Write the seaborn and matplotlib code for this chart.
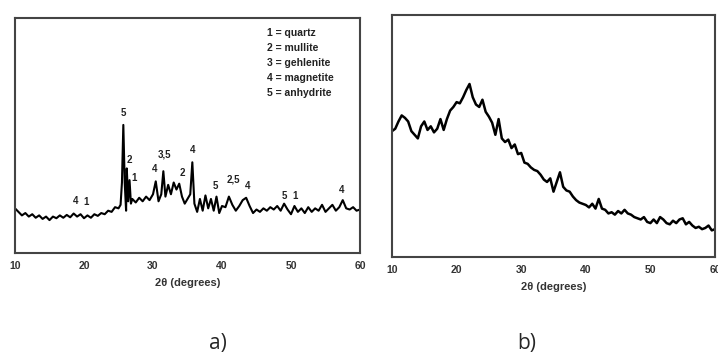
import matplotlib
matplotlib.use("Agg")
import matplotlib.pyplot as plt
import seaborn as sns
import pandas as pd

# ---- data: panel a) (fly ash XRD pattern) ----
two_theta_a = [10, 10.5, 11, 11.5, 12, 12.5, 13, 13.5, 14, 14.5, 15, 15.5, 16, 16.5, 17, 17.5,
               18, 18.5, 19, 19.5, 20, 20.5, 21, 21.5, 22, 22.5, 23, 23.5, 24, 24.5, 25, 25.3,
               25.5, 25.7, 25.9, 26.1, 26.2, 26.4, 26.6, 26.8, 27, 27.5, 28, 28.5, 29, 29.5, 30,
               30.4, 30.8, 31.2, 31.5, 31.8, 32.2, 32.6, 33, 33.4, 33.8, 34.2, 34.6, 35, 35.4,
               35.7, 36, 36.4, 36.8, 37.2, 37.6, 38, 38.4, 38.8, 39.2, 39.6, 40, 40.5, 41, 41.5,
               42, 42.5, 43, 43.5, 44, 44.5, 45, 45.5, 46, 46.5, 47, 47.5, 48, 48.5, 49, 49.5,
               50, 50.5, 51, 51.5, 52, 52.5, 53, 53.5, 54, 54.5, 55, 55.5, 56, 56.5, 57, 57.5,
               58, 58.5, 59, 59.5, 60]
intensity_a = [19.0, 17.5, 16.0, 17.0, 15.5, 16.5, 15.0, 16.0, 14.5, 15.5, 14.0, 15.5, 14.8, 16.0,
               15.0, 16.2, 15.2, 16.8, 15.5, 16.5, 14.8, 16.0, 15.0, 16.5, 15.8, 17.0, 16.5, 18.0,
               17.5, 19.5, 19.0, 20.5, 30.0, 54.5, 30.0, 18.0, 36.0, 22.0, 31.0, 21.0, 23.0, 21.5,
               23.5, 22.0, 24.0, 22.5, 25.0, 30.5, 22.0, 25.0, 34.8, 24.0, 29.0, 25.0, 30.0, 27.0,
               29.5, 24.0, 21.0, 23.0, 25.0, 38.6, 21.0, 17.5, 23.0, 18.0, 24.5, 19.0, 23.0, 18.0,
               24.0, 17.0, 20.0, 19.5, 24.0, 20.5, 18.0, 20.0, 22.5, 23.5, 20.0, 17.0, 18.5, 17.5,
               19.0, 18.0, 19.5, 18.5, 20.0, 18.0, 21.0, 18.5, 16.5, 20.0, 17.5, 19.0, 17.0, 19.5,
               17.5, 19.0, 18.0, 20.5, 17.5, 19.0, 20.5, 18.0, 19.5, 22.5, 19.0, 18.5, 19.5, 18.0,
               18.5]

# peak labels for panel a)
peak_labels = ["4", "1", "5", "2", "1", "4", "3,5", "2", "4", "5", "2,5", "4", "5", "1", "4"]
peak_label_x = [18.8, 20.3, 25.7, 26.6, 27.2, 30.3, 31.6, 34.2, 35.8, 39.1, 41.6, 43.7, 49.0, 50.6, 57.3]
peak_label_y = [22.0, 21.5, 59.6, 39.4, 32.0, 35.7, 41.8, 34.0, 44.0, 28.4, 31.2, 28.6, 24.4, 24.4, 26.7]

legend_lines = ["1 = quartz", "2 = mullite", "3 = gehlenite", "4 = magnetite", "5 = anhydrite"]

# ---- data: panel b) (geopolymer XRD pattern) ----
two_theta_b = [10, 10.5, 11, 11.5, 12, 12.5, 13, 13.5, 14, 14.5, 15, 15.5, 16, 16.5, 17, 17.5,
               18, 18.5, 19, 19.5, 20, 20.5, 21, 21.5, 22, 22.5, 23, 23.5, 24, 24.5, 25, 25.5,
               26, 26.5, 27, 27.5, 28, 28.5, 29, 29.5, 30, 30.5, 31, 31.5, 32, 32.5, 33, 33.5,
               34, 34.5, 35, 35.5, 36, 36.5, 37, 37.5, 38, 38.5, 39, 39.5, 40, 40.5, 41, 41.5,
               42, 42.5, 43, 43.5, 44, 44.5, 45, 45.5, 46, 46.5, 47, 47.5, 48, 48.5, 49, 49.5,
               50, 50.5, 51, 51.5, 52, 52.5, 53, 53.5, 54, 54.5, 55, 55.5, 56, 56.5, 57, 57.5,
               58, 58.5, 59, 59.5, 60]
intensity_b = [52.0, 53.0, 56.0, 58.5, 57.5, 56.0, 52.0, 50.5, 49.0, 54.0, 56.0, 52.5, 54.0, 51.5,
               53.0, 57.0, 52.5, 57.0, 60.5, 62.0, 64.0, 63.5, 66.0, 69.0, 71.5, 66.0, 63.0, 62.0,
               65.0, 60.0, 58.0, 55.5, 50.5, 57.0, 49.0, 47.5, 48.5, 45.0, 46.5, 42.5, 43.0, 39.0,
               38.5, 37.0, 36.0, 35.5, 34.0, 32.0, 31.0, 32.5, 27.0, 31.0, 35.0, 29.0, 27.5, 27.0,
               25.0, 23.5, 22.5, 22.0, 21.5, 20.5, 22.0, 20.0, 24.0, 20.0, 19.5, 18.0, 18.5, 17.5,
               19.0, 18.0, 19.5, 18.0, 17.5, 16.5, 16.0, 15.5, 16.5, 14.5, 14.0, 15.5, 14.0, 16.5,
               15.5, 14.0, 13.5, 15.0, 14.0, 15.5, 16.0, 13.5, 14.5, 13.0, 12.0, 12.5, 11.5, 12.0,
               13.0, 11.0, 11.5]

xticks = [10, 20, 30, 40, 50, 60]
xlabel = "2θ (degrees)"
panel_labels = ["a)", "b)"]

sns.set_style("white")
plt.rcParams["font.family"] = ["Liberation Sans", "DejaVu Sans"]

fig = plt.figure(figsize=(7.18, 3.56), dpi=100)
ax_a = fig.add_axes([15 / 718, 1 - 253 / 356, 345 / 718, 235 / 356])
ax_b = fig.add_axes([392 / 718, 1 - 257 / 356, 323 / 718, 242 / 356])

df_a = pd.DataFrame({"x": two_theta_a, "y": intensity_a})
df_b = pd.DataFrame({"x": two_theta_b, "y": intensity_b})
sns.lineplot(data=df_a, x="x", y="y", ax=ax_a, color="black", linewidth=1.5)
sns.lineplot(data=df_b, x="x", y="y", ax=ax_b, color="black", linewidth=1.8)

for ax in (ax_a, ax_b):
    ax.set_xlim(10, 60)
    ax.set_ylim(0, 100)
    ax.set_xticks(xticks)
    ax.set_xticklabels([str(t) for t in xticks], fontsize=7.5, fontweight="bold", color="#333333")
    ax.set_yticks([])
    ax.set_ylabel("")
    ax.tick_params(axis="x", direction="in", length=4, width=1.2, color="#333333", pad=6)
    for s in ax.spines.values():
        s.set_color("#444444")
        s.set_linewidth(1.5)
    ax.set_xlabel(xlabel, fontsize=8, fontweight="bold", color="#333333", labelpad=5)

for lbl, lx, ly in zip(peak_labels, peak_label_x, peak_label_y):
    ax_a.text(lx, ly, lbl, ha="center", va="center", fontsize=7, fontweight="bold", color="#222222")

for i, line in enumerate(legend_lines):
    ax_a.text(0.73, 0.935 - i * 0.064, line, transform=ax_a.transAxes, ha="left", va="center",
              fontsize=7.5, fontweight="bold", color="#222222")

fig.text(218 / 718, 1 - 343 / 356, panel_labels[0], ha="center", va="center", fontsize=15,
         family=["Open Sans", "DejaVu Sans"])
fig.text(527 / 718, 1 - 343 / 356, panel_labels[1], ha="center", va="center", fontsize=15,
         family=["Open Sans", "DejaVu Sans"])

fig.savefig("out.png", dpi=100)
